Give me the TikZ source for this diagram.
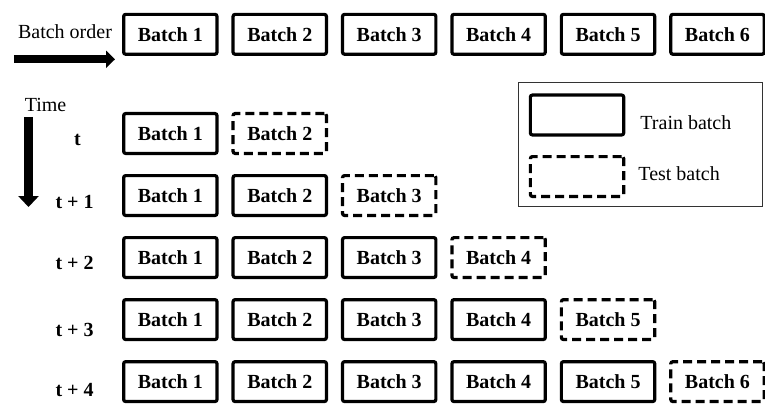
\documentclass[tikz,border=0pt]{standalone}
\usepackage{fontspec}
\setmainfont{Liberation Serif}
\usepackage{xcolor}
\usepackage{tikz}
\usetikzlibrary{arrows.meta, positioning}

\tikzset{
  trainbox/.style={draw,rectangle,black,line width=1.6pt,rounded corners=1pt,minimum width=1.64cm,minimum height=0.70cm,inner sep=0pt,outer sep=0pt,font=\bfseries},
  testbox/.style={trainbox,dash pattern=on 4.5pt off 2.5pt},
  steplabel/.style={black,font=\bfseries,inner sep=0pt},
}

\begin{document}
\begin{tikzpicture}%
\useasboundingbox (0,0) rectangle (13.443,-7.117);%
% order of the batches
\node[black,inner sep=0pt] (ordtxt) at (1.142,-0.562) {Batch order};%
\coordinate (ordA) at (0.246,-1.042);%
\coordinate (ordB) at (2.021,-1.042);%
\draw[black,line width=4pt,-{Triangle[length=4.5pt,width=8.5pt]}] (ordA) -- (ordB);%
\node[trainbox] (top1) at (2.993,-0.603) {Batch 1};%
\node[trainbox,right=0.283cm of top1] (top2) {Batch 2};%
\node[trainbox,right=0.283cm of top2] (top3) {Batch 3};%
\node[trainbox,right=0.283cm of top3] (top4) {Batch 4};%
\node[trainbox,right=0.283cm of top4] (top5) {Batch 5};%
\node[trainbox,right=0.283cm of top5] (top6) {Batch 6};%
% time axis
\node[black,inner sep=0pt] (timetxt) at (0.800,-1.845) {Time};%
\coordinate (timeA) at (0.501,-2.056);%
\coordinate (timeB) at (0.501,-3.638);%
\draw[black,line width=4.5pt,-{Triangle[length=5.5pt,width=10pt]}] (timeA) -- (timeB);%
\node[steplabel] (lab0) at (1.36,-2.460) {t};%
\node[steplabel] (lab1) at (1.31,-3.550) {t + 1};%
\node[steplabel] (lab2) at (1.31,-4.622) {t + 2};%
\node[steplabel] (lab3) at (1.31,-5.799) {t + 3};%
\node[steplabel] (lab4) at (1.31,-6.853) {t + 4};%
% step t
\node[trainbox] (r0b1) at (2.993,-2.346) {Batch 1};%
\node[testbox,right=0.283cm of r0b1] (r0b2) {Batch 2};%
% step t+1
\node[trainbox,below=0.39cm of r0b1] (r1b1) {Batch 1};%
\node[trainbox,right=0.283cm of r1b1] (r1b2) {Batch 2};%
\node[testbox,right=0.283cm of r1b2] (r1b3) {Batch 3};%
% step t+2
\node[trainbox,below=0.39cm of r1b1] (r2b1) {Batch 1};%
\node[trainbox,right=0.283cm of r2b1] (r2b2) {Batch 2};%
\node[trainbox,right=0.283cm of r2b2] (r2b3) {Batch 3};%
\node[testbox,right=0.283cm of r2b3] (r2b4) {Batch 4};%
% step t+3
\node[trainbox,below=0.39cm of r2b1] (r3b1) {Batch 1};%
\node[trainbox,right=0.283cm of r3b1] (r3b2) {Batch 2};%
\node[trainbox,right=0.283cm of r3b2] (r3b3) {Batch 3};%
\node[trainbox,right=0.283cm of r3b3] (r3b4) {Batch 4};%
\node[testbox,right=0.283cm of r3b4] (r3b5) {Batch 5};%
% step t+4
\node[trainbox,below=0.39cm of r3b1] (r4b1) {Batch 1};%
\node[trainbox,right=0.283cm of r4b1] (r4b2) {Batch 2};%
\node[trainbox,right=0.283cm of r4b2] (r4b3) {Batch 3};%
\node[trainbox,right=0.283cm of r4b3] (r4b4) {Batch 4};%
\node[trainbox,right=0.283cm of r4b4] (r4b5) {Batch 5};%
\node[testbox,right=0.283cm of r4b5] (r4b6) {Batch 6};%
% legend
\node[draw,rectangle,black!80,line width=0.5pt,minimum width=4.305cm,minimum height=2.179cm,inner sep=0pt] (legend) at (11.255,-2.548) {};%
\node[trainbox] (trainkey) at (10.140,-2.021) {};%
\node[testbox] (testkey) at (10.140,-3.102) {};%
\node[black,anchor=west,inner sep=0pt] (traintxt) at (11.247,-2.161) {Train batch};%
\node[black,anchor=west,inner sep=0pt] (testtxt) at (11.212,-3.058) {Test batch};%
\end{tikzpicture}
\end{document}
